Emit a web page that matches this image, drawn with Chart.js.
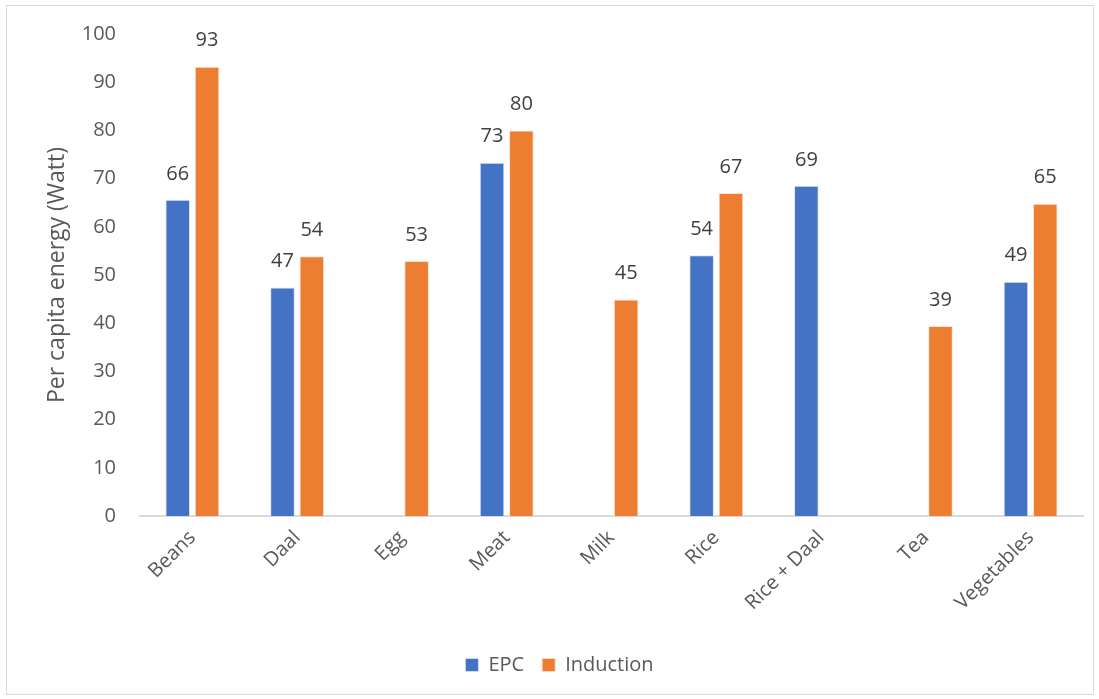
<!DOCTYPE html>
<html>
<head>
<meta charset="utf-8">
<script src="https://cdn.jsdelivr.net/npm/chart.js@4/dist/chart.umd.min.js"></script>
<style>
  html, body { margin: 0; padding: 0; background: #fff; }
  #wrap { position: absolute; left: 0; top: 0; width: 1099px; height: 699px; }
  #frame { position: absolute; left: 6px; top: 5px; width: 1088px; height: 690px; border: 1.5px solid #d9d9d9; box-sizing: border-box; pointer-events: none; }
</style>
</head>
<body>
<div id="wrap">
  <canvas id="c" width="1099" height="699"></canvas>
  <div id="frame"></div>
</div>
<script>
const categories = ["Beans", "Daal", "Egg", "Meat", "Milk", "Rice", "Rice + Daal", "Tea", "Vegetables"];
const epcValues = [65.6, 47.4, null, 73.3, null, 54.1, 68.5, null, 48.6];
const inductionValues = [93.2, 53.9, 52.9, 80.0, 44.9, 67.0, null, 39.4, 64.8];
const yTicks = [0, 10, 20, 30, 40, 50, 60, 70, 80, 90, 100];
const seriesNames = ["EPC", "Induction"];
const FONT = "'Open Sans', 'DejaVu Sans', sans-serif";

const valueLabels = {
  id: 'valueLabels',
  afterDatasetsDraw(chart) {
    const ctx = chart.ctx;
    ctx.save();
    ctx.font = "20px " + FONT;
    ctx.fillStyle = "#404040";
    ctx.textAlign = "center";
    ctx.textBaseline = "middle";
    chart.data.datasets.forEach((ds, di) => {
      const meta = chart.getDatasetMeta(di);
      meta.data.forEach((bar, i) => {
        const v = ds.data[i];
        if (v === null || v === undefined) return;
        ctx.fillText(String(Math.round(v)), bar.x, bar.y - 26);
      });
    });
    ctx.restore();
  }
};

new Chart(document.getElementById('c'), {
  type: 'bar',
  data: {
    labels: categories,
    datasets: [
      { label: seriesNames[0], data: epcValues, backgroundColor: '#4472c4', borderColor: '#dbe3f3', borderWidth: {left:1, right:1, top:1, bottom:0}, borderSkipped: 'bottom' },
      { label: seriesNames[1], data: inductionValues, backgroundColor: '#ed7d31', borderColor: '#fbe3d3', borderWidth: {left:1, right:1, top:1, bottom:0}, borderSkipped: 'bottom' }
    ]
  },
  options: {
    responsive: false,
    animation: false,
    devicePixelRatio: 1,
    categoryPercentage: 0.56,
    barPercentage: 0.84,
    layout: { padding: { left: 36, right: 16, top: 34, bottom: 14 } },
    plugins: {
      legend: {
        position: 'bottom',
        labels: {
          font: { family: FONT, size: 20 },
          color: '#595959',
          boxWidth: 13,
          boxHeight: 13,
          padding: 18,
          useBorderRadius: false
        }
      },
      tooltip: { enabled: false }
    },
    scales: {
      x: {
        grid: { display: false },
        border: { display: true, color: '#d9d9d9', width: 2 },
        afterFit(scale) { scale.height = 121; },
        ticks: {
          font: { family: FONT, size: 20 },
          color: '#595959',
          maxRotation: 45,
          minRotation: 45,
          padding: 2
        }
      },
      y: {
        min: 0,
        max: 100,
        afterBuildTicks(scale) { scale.ticks = yTicks.map(v => ({ value: v })); },
        afterFit(scale) { scale.width = 104; },
        grid: { display: false },
        border: { display: false },
        ticks: {
          font: { family: FONT, size: 20 },
          color: '#595959',
          padding: 16
        },
        title: {
          display: true,
          text: 'Per capita energy (Watt)',
          font: { family: FONT, size: 23 },
          color: '#595959',
          padding: { top: 8, bottom: 0 }
        }
      }
    }
  },
  plugins: [valueLabels]
});
</script>
</body>
</html>
